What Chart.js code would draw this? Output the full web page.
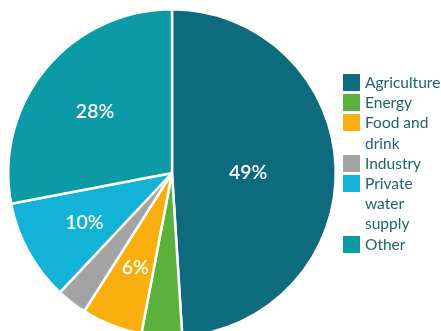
<!DOCTYPE html>
<html>
<head>
<meta charset="utf-8">
<script src="https://cdn.jsdelivr.net/npm/chart.js@4/dist/chart.umd.min.js"></script>
<style>
  html, body { margin: 0; padding: 0; background: #fff; overflow: hidden; }
  #wrap { position: relative; width: 441px; height: 345px; }
  #legend {
    position: absolute; left: 343px; top: 72px; margin: 0; padding: 0;
    list-style: none; font-family: Lato, "Open Sans", sans-serif;
    font-size: 15.5px; line-height: 20.2px; color: #1d6272;
  }
  #legend li { position: relative; padding-left: 22px; width: 80px; }
  #legend li span {
    position: absolute; left: 0; top: 2px; width: 17px; height: 17px;
  }
</style>
</head>
<body>
<div id="wrap">
  <canvas id="chart"></canvas>
  <ul id="legend"></ul>
</div>
<script>
const categories = ["Agriculture", "Energy", "Food and drink", "Industry", "Private water supply", "Other"];
const shares = [49, 4, 6, 3, 10, 28];
const colors = ["#0e6a7d", "#5bb13b", "#f8ae0c", "#a3a3a3", "#12b3d6", "#0b9aa6"];
const shownLabels = ["49%", "", "6%", "", "10%", "28%"];

// percentages written inside the bigger slices
const sliceLabels = {
  id: "sliceLabels",
  afterDatasetsDraw(chart) {
    const ctx = chart.ctx;
    const meta = chart.getDatasetMeta(0);
    ctx.save();
    ctx.fillStyle = "#fff";
    ctx.font = "600 19.5px Lato, 'Open Sans', sans-serif";
    ctx.textAlign = "center";
    ctx.textBaseline = "middle";
    meta.data.forEach((arc, i) => {
      const text = shownLabels[i];
      if (!text) return;
      const p = arc.getProps(["x", "y", "startAngle", "endAngle", "outerRadius"], true);
      const mid = (p.startAngle + p.endAngle) / 2;
      const f = shares[i] > 40 ? 0.465 : 0.61;
      ctx.fillText(text, p.x + Math.cos(mid) * p.outerRadius * f, p.y + Math.sin(mid) * p.outerRadius * f + 2);
    });
    ctx.restore();
  }
};

const chart = new Chart(document.getElementById("chart"), {
  type: "pie",
  data: {
    labels: categories,
    datasets: [{
      data: shares,
      backgroundColor: colors,
      borderColor: "#fff",
      borderWidth: 2.5,
    }],
  },
  options: {
    responsive: true,
    maintainAspectRatio: false,
    animation: false,
    layout: { padding: { left: 7, right: 104, top: 8, bottom: 7 } },
    plugins: {
      legend: { display: false },
      tooltip: { enabled: false },
    },
  },
  plugins: [sliceLabels],
});

const legend = document.getElementById("legend");
categories.forEach((name, i) => {
  const li = document.createElement("li");
  const box = document.createElement("span");
  box.style.background = colors[i];
  li.appendChild(box);
  li.appendChild(document.createTextNode(name));
  legend.appendChild(li);
});
</script>
</body>
</html>
